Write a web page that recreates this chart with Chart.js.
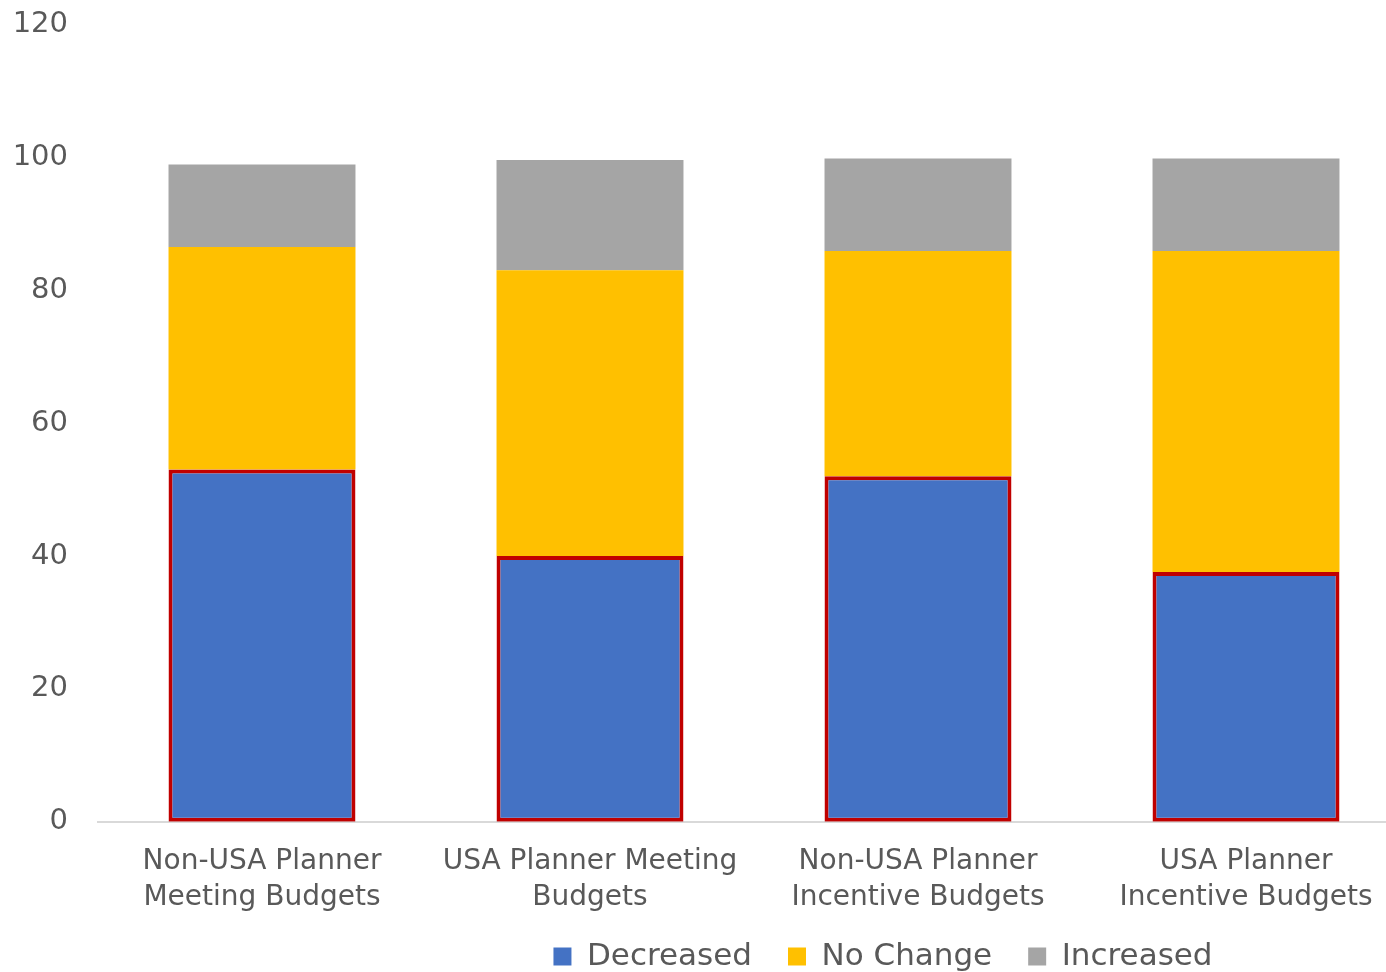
<!DOCTYPE html>
<html>
<head>
<meta charset="utf-8">
<script src="https://cdn.jsdelivr.net/npm/chart.js@4/dist/chart.umd.min.js"></script>
<style>
  html, body { margin: 0; padding: 0; background: #fff; overflow: hidden; }
  #wrap { width: 1412px; height: 1038px; margin-top: -23px; }
</style>
</head>
<body>
<div id="wrap"><canvas id="barChart"></canvas></div>
<script>
const categories = [
    ['Non-USA Planner', 'Meeting Budgets'],
    ['USA Planner Meeting', 'Budgets'],
    ['Non-USA Planner', 'Incentive Budgets'],
    ['USA Planner', 'Incentive Budgets']
];
const decreased = [53, 40, 52, 37.6];
const noChange = [33.5, 43, 33.9, 48.3];
const increased = [12.4, 16.6, 13.9, 13.9];
const yTicks = [0, 20, 40, 60, 80, 100, 120];

const ctx = document.getElementById('barChart').getContext('2d');
const fontFamily = "'DejaVu Sans', sans-serif";

// legend sits right of centre and closer to the axis in the original
const shiftLegend = {
    id: 'shiftLegend',
    afterLayout(chart) {
        chart.legend.left += 178;
        chart.legend.right += 178;
        chart.legend.top -= 33;
        chart.legend.bottom -= 33;
    }
};

const barChart = new Chart(ctx, {
    type: 'bar',
    data: {
        labels: categories,
        datasets: [
            {
                label: 'Decreased',
                data: decreased,
                backgroundColor: '#4472C4',
                borderColor: '#C00000',
                borderWidth: 4,
                borderSkipped: false
            },
            {
                label: 'No Change',
                data: noChange,
                backgroundColor: '#FFC000',
                borderWidth: 0
            },
            {
                label: 'Increased',
                data: increased,
                backgroundColor: '#A5A5A5',
                borderWidth: 0
            }
        ]
    },
    options: {
        responsive: true,
        maintainAspectRatio: false,
        animation: false,
        layout: { padding: { top: 0, left: 0, right: 2, bottom: 0 } },
        datasets: { bar: { barPercentage: 0.57, categoryPercentage: 1 } },
        plugins: {
            tooltip: { enabled: false },
            legend: {
                position: 'bottom',
                labels: {
                    color: '#595959',
                    font: { family: fontFamily, size: 31 },
                    boxWidth: 18,
                    boxHeight: 18,
                    padding: 36,
                    generateLabels: (chart) => chart.data.datasets.map((ds, i) => ({
                        text: ds.label,
                        fillStyle: ds.backgroundColor,
                        strokeStyle: ds.backgroundColor,
                        lineWidth: 0,
                        fontColor: '#595959',
                        datasetIndex: i
                    }))
                }
            }
        },
        scales: {
            x: {
                stacked: true,
                grid: { display: false, drawTicks: false },
                border: { color: '#D9D9D9', width: 2 },
                ticks: {
                    color: '#595959',
                    font: { family: fontFamily, size: 28, lineHeight: 1.29 },
                    padding: 22,
                    maxRotation: 0
                }
            },
            y: {
                stacked: true,
                min: 0,
                max: 120,
                afterBuildTicks: (axis) => { axis.ticks = yTicks.map(v => ({ value: v })); },
                afterFit: (axis) => { axis.width = 98; },
                grid: { display: false, drawTicks: false },
                border: { display: false },
                ticks: {
                    color: '#595959',
                    font: { family: fontFamily, size: 29 },
                    padding: 30
                }
            }
        }
    },
    plugins: [shiftLegend]
});
</script>
</body>
</html>
